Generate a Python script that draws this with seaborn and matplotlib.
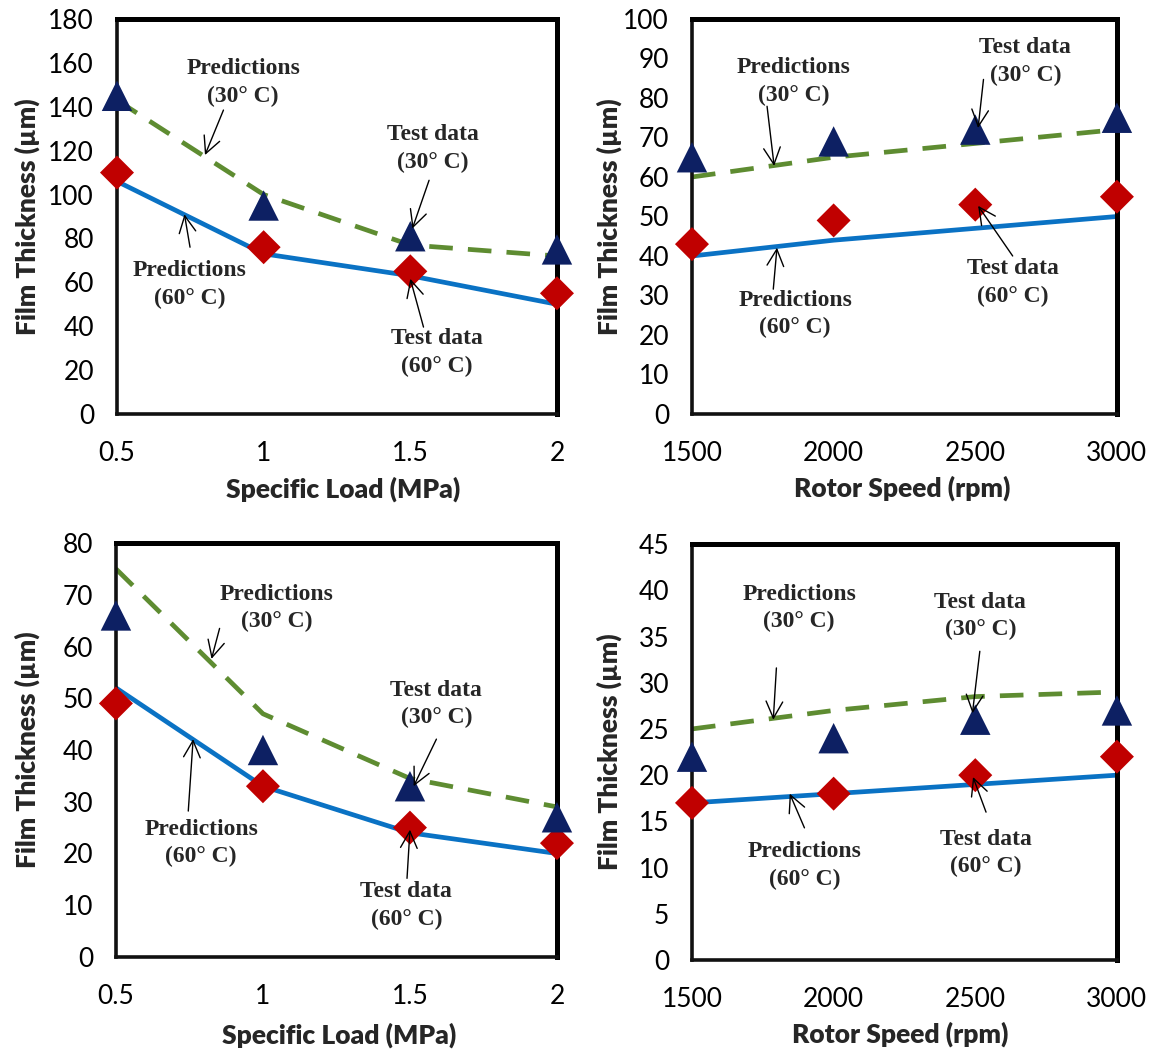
import matplotlib
matplotlib.use("Agg")
import matplotlib.pyplot as plt
import numpy as np
import pandas as pd
import seaborn as sns

# ---------------- data ----------------
load = [0.5, 1.0, 1.5, 2.0]
speed = [1500, 2000, 2500, 3000]

a_test30 = [145, 95, 81, 75]
a_pred30 = [143, 100, 77, 72]
a_test60 = [110, 76, 65, 55]
a_pred60 = [106, 73, 63, 50]

b_test30 = [65, 69, 72, 75]
b_pred30 = [60, 65, 68.5, 72]
b_test60 = [43, 49, 53, 55]
b_pred60 = [40, 44, 47, 50]

c_test30 = [66, 40, 33, 27]
c_pred30 = [75, 47, 34.5, 29]
c_test60 = [49, 33, 25, 22]
c_pred60 = [52, 33, 24, 20]

d_test30 = [22, 24, 26, 27]
d_pred30 = [25, 27, 28.5, 29]
d_test60 = [17, 18, 20, 22]
d_pred60 = [17, 18, 19, 20]

xlabel_load = "Specific Load (MPa)"
xlabel_speed = "Rotor Speed (rpm)"
ylabel = "Film Thickness (µm)"

load_ticks = [0.5, 1, 1.5, 2]
load_ticklabels = ["0.5", "1", "1.5", "2"]
speed_ticks = [1500, 2000, 2500, 3000]

t_p30 = "Predictions\n(30° C)"
t_p60 = "Predictions\n(60° C)"
t_t30 = "Test data\n(30° C)"
t_t60 = "Test data\n(60° C)"

# ---------------- style ----------------
sns.set_theme(style="white")
plt.rcParams["font.family"] = ["Lato", "DejaVu Sans"]

C_TRI = "#0d2063"
C_DIA = "#c00000"
C_BLUE = "#0a72c4"
C_GREEN = "#5e8c31"

fig = plt.figure(figsize=(11.56, 10.55), dpi=100)

panels = [
    dict(rect=[0.1012, 0.6076, 0.3806, 0.3744], x=load, t30=a_test30, p30=a_pred30,
         t60=a_test60, p60=a_pred60, xlim=(0.5, 2), ylim=(0, 180), yticks=np.arange(0, 181, 20),
         xticks=load_ticks, xtl=load_ticklabels, xlabel=xlabel_load,
         xlab_pos=(0.514, -0.158), ylab_pos=(-0.176, 0.5),
         ann=[(t_p30, (0.93, 151), (0.863, 138.5), (0.80, 118)),
              (t_t30, (1.577, 121), (1.564, 106.5), (1.507, 84.5)),
              (t_p60, (0.749, 59), (0.749, 76), (0.730, 91)),
              (t_t60, (1.59, 28), (1.545, 39.6), (1.50, 61.6))]),
    dict(rect=[0.5986, 0.6076, 0.3676, 0.3744], x=speed, t30=b_test30, p30=b_pred30,
         t60=b_test60, p60=b_pred60, xlim=(1500, 3000), ylim=(0, 100), yticks=np.arange(0, 101, 10),
         xticks=speed_ticks, xtl=[str(s) for s in speed_ticks], xlabel=xlabel_speed,
         xlab_pos=(0.494, -0.156), ylab_pos=(-0.165, 0.5),
         ann=[(t_p30, (1858, 84.2), (1765, 77.9), (1790, 62.8)),
              (t_t30, (2677, 89.3), (2529, 84.7), (2510, 72.4)),
              (t_p60, (1864, 25.3), (1787, 31.6), (1800, 42.1)),
              (t_t60, (2632, 33.3), (2632, 40.0), (2510, 52.7))]),
    dict(rect=[0.1003, 0.0929, 0.3815, 0.3924], x=load, t30=c_test30, p30=c_pred30,
         t60=c_test60, p60=c_pred60, xlim=(0.5, 2), ylim=(0, 80), yticks=np.arange(0, 81, 10),
         xticks=load_ticks, xtl=load_ticklabels, xlabel=xlabel_load,
         xlab_pos=(0.505, -0.158), ylab_pos=(-0.173, 0.5),
         ann=[(t_p30, (1.046, 67.4), (0.8525, 63.5), (0.825, 57.6)),
              (t_t30, (1.59, 48.9), (1.59, 42.1), (1.5125, 33.0)),
              (t_p60, (0.79, 22.0), (0.746, 28.2), (0.7625, 42.1)),
              (t_t60, (1.4875, 10.0), (1.49, 15.2), (1.50, 24.6))]),
    dict(rect=[0.5986, 0.0900, 0.3676, 0.3943], x=speed, t30=d_test30, p30=d_pred30,
         t60=d_test60, p60=d_pred60, xlim=(1500, 3000), ylim=(0, 45), yticks=np.arange(0, 46, 5),
         xticks=speed_ticks, xtl=[str(s) for s in speed_ticks], xlabel=xlabel_speed,
         xlab_pos=(0.49, -0.148), ylab_pos=(-0.165, 0.5),
         ann=[(t_p30, (1878, 38.1), (1798, 31.6), (1787, 26.0)),
              (t_t30, (2518, 37.2), (2516, 33.4), (2490, 26.7)),
              (t_p60, (1897, 10.2), (1897, 14.3), (1845, 18.0)),
              (t_t60, (2538, 11.6), (2538, 16.0), (2492, 19.8))]),
]

for p in panels:
    ax = fig.add_axes(p["rect"])
    df = pd.DataFrame({"x": p["x"], "t30": p["t30"], "p30": p["p30"],
                       "t60": p["t60"], "p60": p["p60"]})
    sns.lineplot(data=df, x="x", y="p60", ax=ax, color=C_BLUE, linewidth=3.4, zorder=3)
    sns.lineplot(data=df, x="x", y="p30", ax=ax, color=C_GREEN, linewidth=3.4, zorder=3)
    ax.lines[-1].set_dashes([5.0, 3.2])
    ax.lines[-1].set_dash_capstyle("butt")
    sns.scatterplot(data=df, x="x", y="t60", ax=ax, marker="D", s=300, color=C_DIA,
                    edgecolor="none", linewidth=0, zorder=6, clip_on=False)
    sns.scatterplot(data=df, x="x", y="t30", ax=ax, marker="^", s=480, color=C_TRI,
                    edgecolor="none", linewidth=0, zorder=6, clip_on=False)
    for coll in ax.collections:
        coll.set_clip_on(False)

    ax.set_xlim(*p["xlim"])
    ax.set_ylim(*p["ylim"])
    ax.set_xticks(p["xticks"])
    ax.set_xticklabels(p["xtl"])
    ax.set_yticks(p["yticks"])
    ax.set_yticklabels([str(int(v)) for v in p["yticks"]])
    ax.tick_params(axis="both", direction="inout", length=13, width=1.2, color="#9a9a9a",
                   labelsize=19, labelcolor="black", pad=10)
    ax.tick_params(axis="x", pad=13)

    for side in ["top", "right"]:
        ax.spines[side].set_linewidth(3.6)
        ax.spines[side].set_color("black")
    for side in ["left", "bottom"]:
        ax.spines[side].set_linewidth(2.6)
        ax.spines[side].set_color("#111111")
    for sp in ax.spines.values():
        sp.set_zorder(4)

    ax.set_xlabel(p["xlabel"], fontsize=19, fontweight="heavy")
    ax.set_ylabel(ylabel, fontsize=19, fontweight="heavy")
    ax.xaxis.set_label_coords(*p["xlab_pos"])
    ax.yaxis.set_label_coords(*p["ylab_pos"])

    for txt, txy, start, tip in p["ann"]:
        ax.text(txy[0], txy[1], txt, ha="center", va="center", fontsize=17,
                fontweight="bold", family=["Liberation Serif", "DejaVu Serif"],
                linespacing=1.4, zorder=7)
        ax.annotate("", xy=tip, xytext=start,
                    arrowprops=dict(arrowstyle="->", lw=1.0, color="black",
                                    shrinkA=0, shrinkB=0, mutation_scale=30),
                    zorder=7)

fig.savefig("out.png", dpi=100)
